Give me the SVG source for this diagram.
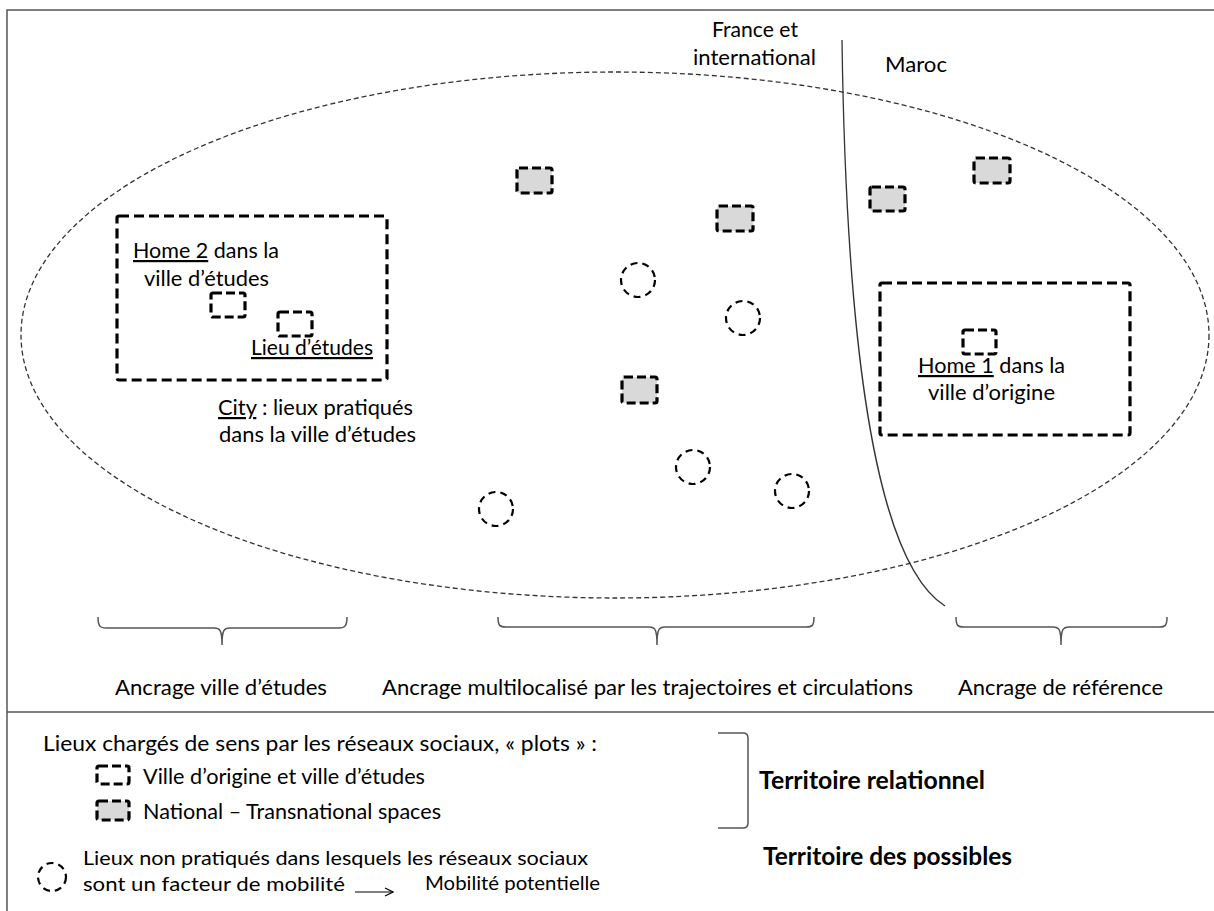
<svg xmlns="http://www.w3.org/2000/svg" width="1214" height="911" viewBox="0 0 1214 911">
<defs>
<style>
text{font-family:Lato,"Liberation Sans",sans-serif;font-size:22px;fill:#000}
.b{font-weight:bold;font-size:24px}
.u{text-decoration:underline}
.s20{font-size:20px}
.frame{stroke:#555;stroke-width:1.5;fill:none}
.ell{fill:none;stroke:#333;stroke-width:1.3;stroke-dasharray:5 3}
.big{fill:none;stroke:#000;stroke-width:3.2;stroke-dasharray:10 5;stroke-linejoin:round}
.sq{fill:none;stroke:#000;stroke-width:3.2;stroke-dasharray:9 4;stroke-linejoin:round}
.gsq{fill:#d9d9d9;stroke:#000;stroke-width:3.2;stroke-dasharray:9 4;stroke-linejoin:round}
.cir{fill:none;stroke:#000;stroke-width:2.2;stroke-dasharray:7 5}
.brace{fill:none;stroke:#555;stroke-width:1.5}
.line{fill:none;stroke:#333;stroke-width:1.3}
</style>
<marker id="arr" markerWidth="10" markerHeight="10" refX="9" refY="5" orient="auto" markerUnits="userSpaceOnUse">
<path d="M1,1 L9,5 L1,9" fill="none" stroke="#000" stroke-width="1.2"/>
</marker>
</defs>
<rect width="1214" height="911" fill="#fff"/>
<g id="frame">
<path class="frame" d="M7,911 L7,10 L1214,10"/>
<path class="frame" d="M7,712 L1214,712"/>
</g>
<g id="territory-ellipse"><ellipse class="ell" cx="615" cy="335" rx="594" ry="263"/></g>
<g id="border-line"><path class="line" d="M842,40 C846,330 872,560 945,606"/></g>
<g id="label-france"><text x="712" y="37" textLength="86" lengthAdjust="spacingAndGlyphs">France et</text><text x="693" y="65" textLength="123" lengthAdjust="spacingAndGlyphs">international</text></g>
<g id="label-maroc"><text x="885" y="72" textLength="62" lengthAdjust="spacingAndGlyphs">Maroc</text></g>
<g id="city-box">
<rect class="big" x="117" y="216" width="270" height="164" rx="2"/>
<text x="133" y="258" textLength="146" lengthAdjust="spacingAndGlyphs"><tspan class="u">Home 2</tspan> dans la</text>
<text x="144" y="286" textLength="125" lengthAdjust="spacingAndGlyphs">ville d’études</text>
<rect class="sq" x="211" y="293" width="34" height="24" rx="2"/>
<rect class="sq" x="278" y="312" width="34" height="24" rx="2"/>
<text x="251" y="355" class="u" textLength="122" lengthAdjust="spacingAndGlyphs">Lieu d’études</text>
</g>
<g id="city-label"><text x="218" y="415" textLength="195" lengthAdjust="spacingAndGlyphs"><tspan class="u">City</tspan> : lieux pratiqués</text><text x="219" y="442" textLength="197" lengthAdjust="spacingAndGlyphs">dans la ville d’études</text></g>
<g id="origin-box">
<rect class="big" x="880" y="283" width="250" height="152" rx="2"/>
<rect class="sq" x="963" y="330" width="33" height="24" rx="2"/>
<text x="918" y="373" textLength="147" lengthAdjust="spacingAndGlyphs"><tspan class="u">Home 1</tspan> dans la</text>
<text x="928" y="400" textLength="127" lengthAdjust="spacingAndGlyphs">ville d’origine</text>
</g>
<g id="transnational-places">
<rect class="gsq" x="517" y="168" width="35" height="25" rx="2"/>
<rect class="gsq" x="717" y="206" width="36" height="25" rx="2"/>
<rect class="gsq" x="870" y="187" width="35" height="24" rx="2"/>
<rect class="gsq" x="974" y="158" width="36" height="25" rx="2"/>
<rect class="gsq" x="622" y="377" width="35" height="26" rx="2"/>
</g>
<g id="possible-places">
<circle class="cir" cx="638" cy="280" r="17"/>
<circle class="cir" cx="743" cy="318" r="17"/>
<circle class="cir" cx="693" cy="467" r="17"/>
<circle class="cir" cx="792" cy="491" r="17"/>
<circle class="cir" cx="496" cy="509" r="17"/>
</g>
<g id="connectors">
<path class="brace" d="M98,617 C98,626 100,628 106,628 L214,628 C220,628 222,630 222,645 M347,617 C347,626 345,628 339,628 L230,628 C224,628 222,630 222,645"/>
<path class="brace" d="M498,617 C498,626 500,627 506,627 L649,627 C655,627 657,629 657,645 M814,617 C814,626 812,627 806,627 L665,627 C659,627 657,629 657,645"/>
<path class="brace" d="M956,617 C956,626 958,627 964,627 L1053,627 C1059,627 1061,629 1061,645 M1167,617 C1167,626 1165,627 1159,627 L1069,627 C1063,627 1061,629 1061,645"/>
<path class="brace" d="M718,733 L743,733 Q748,733 748,738 L748,823 Q748,828 743,828 L718,828" stroke="#333"/>
<path d="M355,892 L393,892" stroke="#000" stroke-width="1.2" marker-end="url(#arr)"/>
</g>
<g id="anchor-labels">
<text x="115" y="695" textLength="212" lengthAdjust="spacingAndGlyphs">Ancrage ville d’études</text>
<text x="382" y="695" textLength="531" lengthAdjust="spacingAndGlyphs">Ancrage multilocalisé par les trajectoires et circulations</text>
<text x="958" y="695" textLength="205" lengthAdjust="spacingAndGlyphs">Ancrage de référence</text>
</g>
<g id="legend">
<text x="43" y="751" textLength="554" lengthAdjust="spacingAndGlyphs">Lieux chargés de sens par les réseaux sociaux, « plots » :</text>
<rect class="sq" x="97" y="766" width="32" height="18" rx="2" stroke-dasharray="8 4"/>
<text x="143" y="784" textLength="282" lengthAdjust="spacingAndGlyphs">Ville d’origine et ville d’études</text>
<rect class="gsq" x="97" y="801" width="32" height="19" rx="2" stroke-dasharray="8 4"/>
<text x="143" y="819" textLength="298" lengthAdjust="spacingAndGlyphs">National – Transnational spaces</text>
<text x="759" y="789" class="b" textLength="226" lengthAdjust="spacingAndGlyphs">Territoire relationnel</text>
<circle class="cir" cx="52" cy="877" r="14" stroke-dasharray="6 6"/>
<text x="83" y="865" class="s20" textLength="505" lengthAdjust="spacingAndGlyphs">Lieux non pratiqués dans lesquels les réseaux sociaux</text>
<text x="83" y="891" class="s20" textLength="262" lengthAdjust="spacingAndGlyphs">sont un facteur de mobilité</text>
<text x="425" y="890" class="s20" textLength="175" lengthAdjust="spacingAndGlyphs">Mobilité potentielle</text>
<text x="763" y="865" class="b" textLength="249" lengthAdjust="spacingAndGlyphs">Territoire des possibles</text>
</g>
</svg>
